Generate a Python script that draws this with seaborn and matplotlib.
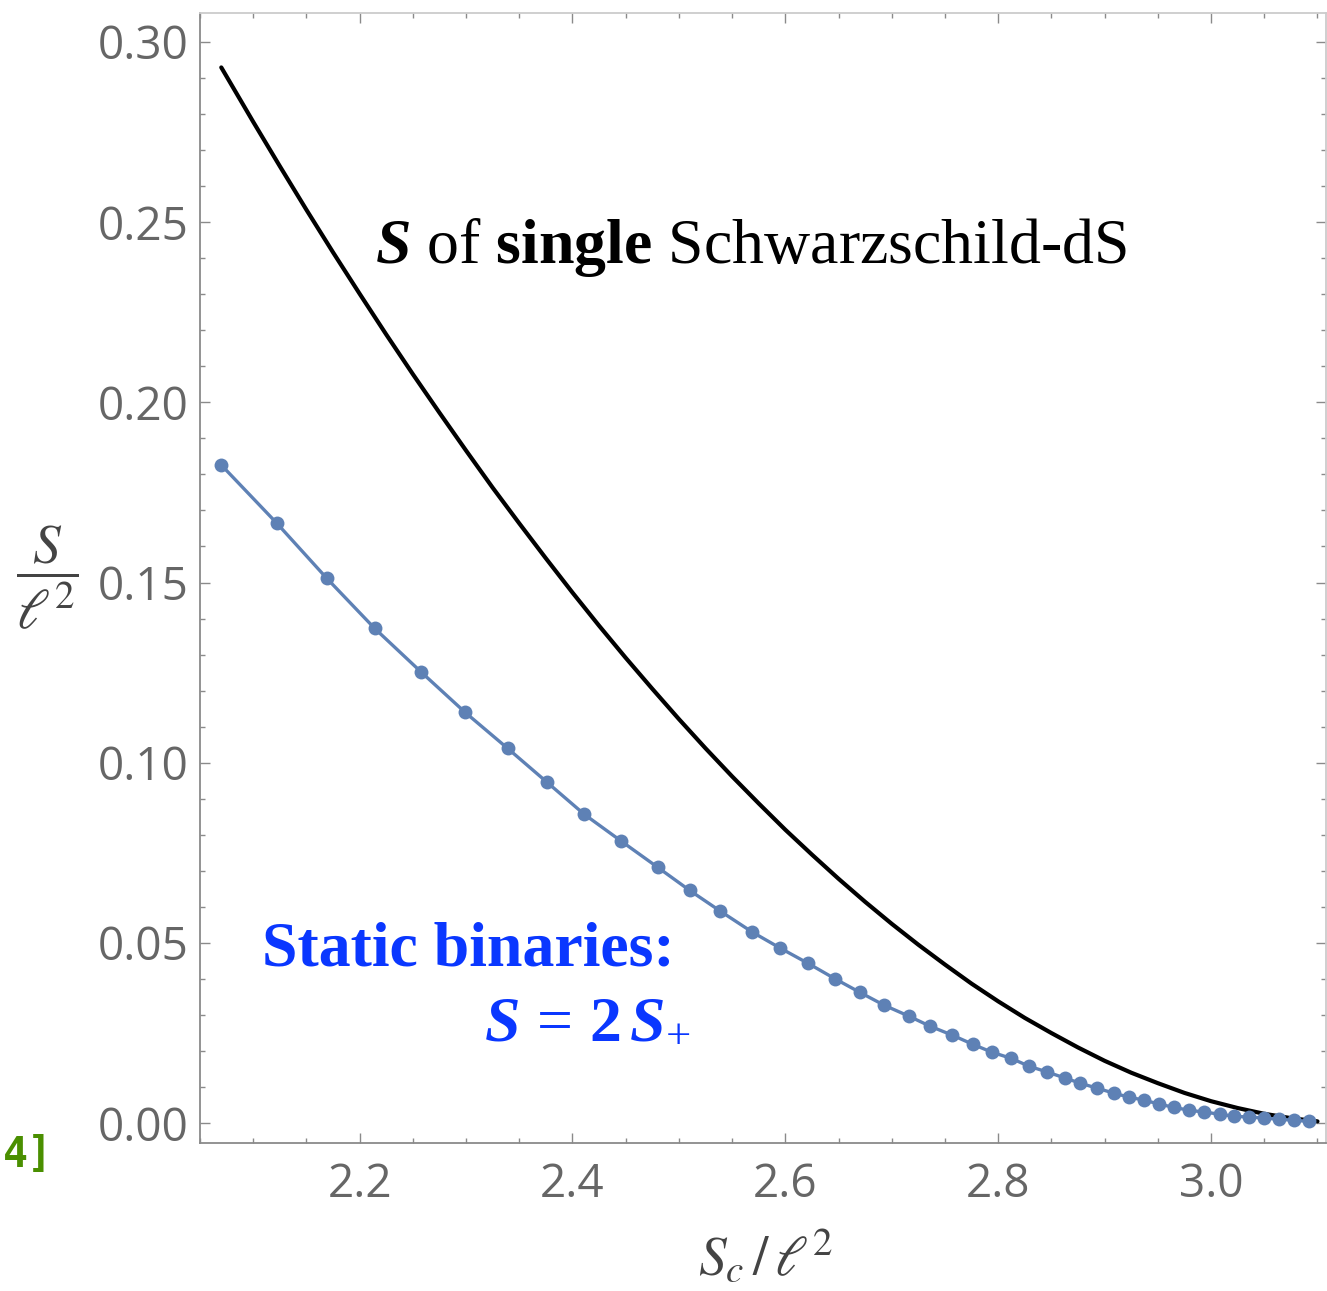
import matplotlib
matplotlib.use("Agg")
import matplotlib.pyplot as plt
import seaborn as sns
from matplotlib.ticker import MultipleLocator

# single Schwarzschild-dS: S / l^2 against S_c / l^2
sc_single = [2.070, 2.100, 2.125, 2.150, 2.175, 2.200, 2.225, 2.250, 2.275,
             2.300, 2.325, 2.350, 2.375, 2.400, 2.425, 2.450, 2.475, 2.500,
             2.525, 2.550, 2.575, 2.600, 2.625, 2.650, 2.675, 2.700, 2.725,
             2.750, 2.775, 2.800, 2.825, 2.850, 2.875, 2.900, 2.925, 2.950,
             2.975, 3.000, 3.025, 3.050, 3.075, 3.100]
s_single = [0.2929, 0.2778, 0.2655, 0.2534, 0.2416, 0.2301, 0.2188, 0.2078,
            0.1971, 0.1866, 0.1763, 0.1664, 0.1567, 0.1472, 0.1380, 0.1291,
            0.1205, 0.1121, 0.1040, 0.0962, 0.0887, 0.0814, 0.0745, 0.0678,
            0.0614, 0.0553, 0.0495, 0.0440, 0.0387, 0.0338, 0.0292, 0.0250,
            0.0210, 0.0173, 0.0140, 0.0111, 0.0084, 0.0061, 0.0042, 0.0026,
            0.0014, 0.0005]

# static binaries: S = 2 S_+
sc_binary = [2.070, 2.122, 2.169, 2.214, 2.258, 2.299, 2.339, 2.376, 2.411,
             2.446, 2.480, 2.510, 2.539, 2.569, 2.595, 2.621, 2.647, 2.670,
             2.693, 2.716, 2.736, 2.757, 2.776, 2.794, 2.812, 2.829, 2.846,
             2.863, 2.877, 2.893, 2.909, 2.923, 2.937, 2.951, 2.965, 2.979,
             2.993, 3.008, 3.022, 3.036, 3.050, 3.064, 3.078, 3.092]
s_binary = [0.1826, 0.1665, 0.1512, 0.1373, 0.1251, 0.1140, 0.1040, 0.0946,
            0.0857, 0.0782, 0.0710, 0.0646, 0.0588, 0.0530, 0.0486, 0.0444,
            0.0400, 0.0363, 0.0327, 0.0297, 0.0269, 0.0244, 0.0219, 0.0197,
            0.0180, 0.0158, 0.0142, 0.0125, 0.0111, 0.0097, 0.0083, 0.0072,
            0.0064, 0.0053, 0.0044, 0.0036, 0.0031, 0.0025, 0.0019, 0.0017,
            0.0014, 0.0011, 0.0008, 0.0005]

x_ticks = [2.2, 2.4, 2.6, 2.8, 3.0]
y_ticks = [0.00, 0.05, 0.10, 0.15, 0.20, 0.25, 0.30]

sns.set_theme(style="ticks")
plt.rcParams["font.family"] = ["Open Sans", "DejaVu Sans"]
plt.rcParams["mathtext.fontset"] = "custom"
plt.rcParams["mathtext.rm"] = "Liberation Serif"
plt.rcParams["mathtext.it"] = "Liberation Serif:italic"
plt.rcParams["mathtext.bf"] = "Liberation Serif:bold"
plt.rcParams["mathtext.bfit"] = "Liberation Serif:bold:italic"

fig = plt.figure(figsize=(13.27, 12.91), dpi=100)
ax = fig.add_axes([200 / 1327, 1 - 1143 / 1291, 1126 / 1327, 1130 / 1291])

sns.lineplot(x=sc_single, y=s_single, color="black", linewidth=3.0, ax=ax, legend=False)
sns.lineplot(x=sc_binary, y=s_binary, color="#5e81b5", linewidth=2.4, marker="o",
             markersize=10, markeredgewidth=0, ax=ax, legend=False)

ax.set_xlim(2.05, 3.108)
ax.set_ylim(-0.0055, 0.308)
ax.set_xticks(x_ticks)
ax.set_yticks(y_ticks)
ax.set_xticklabels([f"{v:.1f}" for v in x_ticks])
ax.set_yticklabels([f"{v:.2f}" for v in y_ticks])
ax.xaxis.set_minor_locator(MultipleLocator(0.05))
ax.yaxis.set_minor_locator(MultipleLocator(0.01))

for side in ["left", "bottom"]:
    ax.spines[side].set_color("#8a8a8a")
    ax.spines[side].set_linewidth(1.3)
for side in ["top", "right"]:
    ax.spines[side].set_visible(True)
    ax.spines[side].set_color("#cccccc")
    ax.spines[side].set_linewidth(1.3)

ax.tick_params(which="both", direction="in", top=True, right=True, color="#8a8a8a", width=1.0)
ax.tick_params(which="major", length=7)
ax.tick_params(which="minor", length=3.5)
ax.tick_params(axis="x", which="major", pad=14, labelsize=33, labelcolor="#666666")
ax.tick_params(axis="y", which="major", pad=8, labelsize=33, labelcolor="#666666")

ax.set_ylabel(r"$\dfrac{S}{\ell^2}$", rotation=0, fontsize=40, color="#444444",
              math_fontfamily="stix", va="center", ha="center")
ax.yaxis.set_label_coords(-0.136, 0.5)
ax.set_xlabel(r"$S_c\,/\,\ell^2$", fontsize=40, color="#444444",
              math_fontfamily="stix", va="top")
ax.xaxis.set_label_coords(0.502, -0.078)

ax.text(2.214, 0.2386, r"$\mathbfit{S}$ of $\mathbf{single}$ Schwarzschild-dS",
        family="Liberation Serif", fontsize=46, color="black", va="baseline")
ax.text(2.108, 0.0438, "Static binaries:", family="Liberation Serif", weight="bold",
        fontsize=46, color="#0a37ff", va="baseline")
ax.text(2.317, 0.0239, r"$\mathbfit{S}\,=\,\mathbf{2}\,\mathbfit{S}_{+}$",
        fontsize=46, color="#0a37ff", va="baseline")

# notebook cell label at the left edge of the reference
fig.text(3 / 1327, 1 - 1155 / 1291, "4]", family="DejaVu Sans Mono", weight="bold",
         fontsize=30, color="#4a8f00", ha="left", va="center")

fig.savefig("out.png", dpi=100)
